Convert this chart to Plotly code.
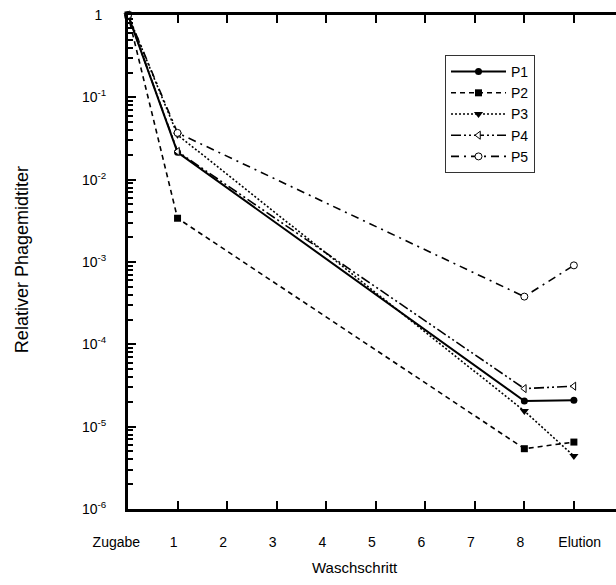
import plotly.graph_objects as go

# ---- data ----
tick_labels = ["Zugabe", "1", "2", "3", "4", "5", "6", "7", "8", "Elution"]
tick_pos = list(range(10))
x_points = [0, 1, 8, 9]  # Zugabe, Waschschritt 1, Waschschritt 8, Elution

P1 = [1.0, 0.0215, 2.05e-5, 2.1e-5]
P2 = [1.0, 3.4e-3, 5.4e-6, 6.5e-6]
P3 = [1.0, 0.035, 1.55e-5, 4.4e-6]
P4 = [1.0, 0.022, 2.9e-5, 3.1e-5]
P5 = [1.0, 0.037, 3.8e-4, 9.1e-4]

y_tickvals = [1e-6, 1e-5, 1e-4, 1e-3, 1e-2, 1e-1, 1]
y_ticktext = ["10<sup>-6</sup>", "10<sup>-5</sup>", "10<sup>-4</sup>", "10<sup>-3</sup>",
              "10<sup>-2</sup>", "10<sup>-1</sup>", "1\u00a0"]

FONT = "Liberation Sans, Arial, sans-serif"
NB = "\u00a0"
x_ticktext = ["Zugabe" + NB * 6] + [t + NB * 2 for t in tick_labels[1:9]] + [NB * 3 + "Elution"]

series = [
    ("P1", P1, dict(dash="solid", width=2), dict(symbol="circle", size=7, color="black")),
    ("P2", P2, dict(dash="5px,4px", width=1.6), dict(symbol="square", size=7, color="black")),
    ("P3", P3, dict(dash="2px,2px", width=1.6), dict(symbol="triangle-down", size=8, color="black")),
    ("P4", P4, dict(dash="10px,3px,2px,3px,2px,3px", width=1.6),
     dict(symbol="triangle-left", size=7, color="white", line=dict(color="black", width=1))),
    ("P5", P5, dict(dash="8px,5px,2px,5px", width=1.6),
     dict(symbol="circle", size=7, color="white", line=dict(color="black", width=1))),
]

fig = go.Figure()
for name, vals, ln, mk in series:
    ln = dict(ln, color="black")
    fig.add_trace(go.Scatter(x=x_points, y=vals, name=name, mode="lines+markers",
                             line=ln, marker=mk, cliponaxis=False))

fig.update_layout(
    width=616, height=585,
    margin=dict(l=128, r=0, t=15, b=76),
    paper_bgcolor="white", plot_bgcolor="white",
    font=dict(family=FONT, size=14, color="black"),
    showlegend=True,
    legend=dict(x=0.6496, y=0.919, xanchor="left", yanchor="top",
                bordercolor="#333", borderwidth=1, bgcolor="white",
                font=dict(family=FONT, size=14), itemwidth=55, tracegroupgap=0),
    xaxis=dict(range=[0, 9.85], tickmode="array", tickvals=tick_pos, ticktext=x_ticktext,
               ticks="inside", ticklen=8, tickwidth=2, tickcolor="black",
               showline=True, linewidth=3, linecolor="black", mirror="ticks",
               showgrid=False, zeroline=False, ticklabelstandoff=18,
               tickfont=dict(family=FONT, size=14)),
    yaxis=dict(type="log", range=[-6, 0], tickmode="array", tickvals=y_tickvals, ticktext=y_ticktext,
               ticks="inside", ticklen=8, tickwidth=2, tickcolor="black",
               minor=dict(ticks="inside", ticklen=5, tickwidth=2, tickcolor="black", dtick="D1", showgrid=False),
               showline=True, linewidth=3, linecolor="black", mirror=False,
               showgrid=False, zeroline=False, ticklabelstandoff=16,
               tickfont=dict(family=FONT, size=14)),
    yaxis2=dict(type="log", range=[-6, 0], overlaying="y", side="right",
                tickmode="array", tickvals=y_tickvals[1:-1], ticks="inside", ticklen=3, tickwidth=2,
                tickcolor="black", showticklabels=False, showline=False, showgrid=False, zeroline=False),
    annotations=[
        dict(text="Waschschritt", xref="paper", yref="paper", x=0.465, y=-0.119,
             showarrow=False, font=dict(family=FONT, size=15), xanchor="center", yanchor="middle"),
        dict(text="Relativer Phagemidtiter", xref="paper", yref="paper", x=-0.217, y=0.504,
             showarrow=False, textangle=-90, font=dict(family=FONT, size=18),
             xanchor="center", yanchor="middle"),
    ],
)

fig.write_html("out.html")
